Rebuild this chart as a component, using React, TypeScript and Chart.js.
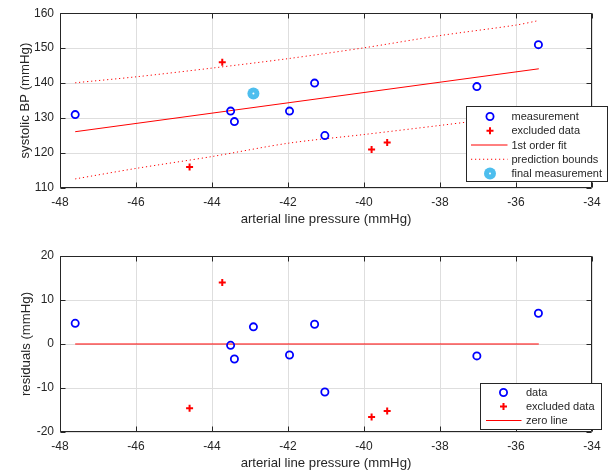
import React, { useEffect, useRef } from 'react';
import { Chart, registerables } from 'chart.js';
Chart.register(...registerables);

const FONT = "'Liberation Sans', Arial, Helvetica, sans-serif";
const AX = '#262626';
const GRID = '#dedede';
const BLUE = '#0000ff';
const RED = '#ff0000';
const LBLUE = '#4dbeee';

// ---- data ----
const xTicks = [-48, -46, -44, -42, -40, -38, -36, -34];
const bpTicks = [110, 120, 130, 140, 150, 160];
const resTicks = [-20, -10, 0, 10, 20];

const measX = [-47.6, -43.51, -43.41, -41.96, -41.3, -41.03, -37.03, -35.41];
const measY = [131, 132, 129, 132, 140, 125, 139, 151];

const exclX = [-44.59, -43.73, -39.8, -39.39];
const exclY = [116, 146, 121, 123];

const finalX = [-42.91];
const finalY = [137];

const fitX = [-47.6, -35.4];
const fitY = [126.1, 144.1];

const boundX = [-47.6, -46, -44, -42, -40, -38, -36, -35.4];
const upperY = [140.1, 141.8, 144.3, 147.0, 150.1, 153.6, 156.6, 157.9];
const lowerY = [112.6, 115.6, 119.0, 122.8, 125.3, 127.9, 130.6, 131.4];

const resX = [-47.6, -43.51, -43.41, -42.91, -41.96, -41.3, -41.03, -37.03, -35.41];
const resY = [4.7, -0.3, -3.4, 3.9, -2.5, 4.5, -10.9, -2.7, 7.0];

const resExclX = [-44.59, -43.73, -39.8, -39.39];
const resExclY = [-14.6, 14.0, -16.6, -15.2];

const zeroX = [-47.6, -35.4];
const zeroY = [0, 0];

const pts = (xs: number[], ys: number[]) => xs.map((x, i) => ({ x, y: ys[i] }));

type LegendItem = { label: string; kind: string };
type LegendCfg = {
  x: number; y: number; w: number; h: number;
  row0: number; dy: number; sym: number; l1: number; l2: number; tx: number;
  items: LegendItem[];
};

function drawSymbol(ctx: CanvasRenderingContext2D, kind: string, cx: number, cy: number, l1: number, l2: number) {
  ctx.save();
  if (kind === 'circle') {
    ctx.strokeStyle = BLUE; ctx.lineWidth = 1.8;
    ctx.beginPath(); ctx.arc(cx, cy, 3.6, 0, Math.PI * 2); ctx.stroke();
  } else if (kind === 'cross') {
    ctx.strokeStyle = RED; ctx.lineWidth = 2;
    ctx.beginPath(); ctx.moveTo(cx - 3.5, cy); ctx.lineTo(cx + 3.5, cy);
    ctx.moveTo(cx, cy - 3.5); ctx.lineTo(cx, cy + 3.5); ctx.stroke();
  } else if (kind === 'line') {
    ctx.strokeStyle = RED; ctx.lineWidth = 1;
    ctx.beginPath(); ctx.moveTo(l1, cy); ctx.lineTo(l2, cy); ctx.stroke();
  } else if (kind === 'dotted') {
    ctx.strokeStyle = RED; ctx.lineWidth = 1; ctx.setLineDash([1.2, 2.8]);
    ctx.beginPath(); ctx.moveTo(l1, cy); ctx.lineTo(l2, cy); ctx.stroke();
  } else if (kind === 'filled') {
    ctx.fillStyle = LBLUE;
    ctx.beginPath(); ctx.arc(cx, cy, 6, 0, Math.PI * 2); ctx.fill();
    ctx.fillStyle = '#ffffff';
    ctx.beginPath(); ctx.arc(cx, cy, 1, 0, Math.PI * 2); ctx.fill();
  }
  ctx.restore();
}

function makePlugin(ticksY: number[], legend: LegendCfg, xTitle: string, xTitleY: number, yTitle: string, yTitleX: number) {
  return {
    id: 'boxAndLegend',
    afterDraw(chart: any) {
      const ctx: CanvasRenderingContext2D = chart.ctx;
      const { left, right, top, bottom } = chart.chartArea;
      const xs = chart.scales.x;
      const ys = chart.scales.y;
      ctx.save();
      ctx.strokeStyle = AX;
      ctx.lineWidth = 1;
      const L = Math.round(left) + 0.5, R = Math.round(right) - 0.5;
      const T = Math.round(top) + 0.5, B = Math.round(bottom) - 0.5;
      ctx.beginPath();
      ctx.rect(L, T, R - L, B - T);
      const tl = 5;
      xTicks.forEach((v) => {
        const px = Math.round(xs.getPixelForValue(v)) + 0.5;
        ctx.moveTo(px, B); ctx.lineTo(px, B - tl);
        ctx.moveTo(px, T); ctx.lineTo(px, T + tl);
      });
      ticksY.forEach((v) => {
        const py = Math.round(ys.getPixelForValue(v)) + 0.5;
        ctx.moveTo(L, py); ctx.lineTo(L + tl, py);
        ctx.moveTo(R, py); ctx.lineTo(R - tl, py);
      });
      ctx.stroke();

      // axis titles
      ctx.fillStyle = AX;
      ctx.font = `13.2px ${FONT}`;
      ctx.textAlign = 'center';
      ctx.textBaseline = 'middle';
      ctx.fillText(xTitle, (left + right) / 2, xTitleY);
      ctx.save();
      ctx.translate(yTitleX, (top + bottom) / 2);
      ctx.rotate(-Math.PI / 2);
      ctx.fillText(yTitle, 0, 0);
      ctx.restore();

      // legend
      const lg = legend;
      ctx.fillStyle = '#ffffff';
      ctx.fillRect(lg.x, lg.y, lg.w, lg.h);
      ctx.strokeStyle = AX;
      ctx.lineWidth = 1;
      ctx.strokeRect(lg.x, lg.y, lg.w, lg.h);
      ctx.font = `11px ${FONT}`;
      ctx.textAlign = 'left';
      ctx.textBaseline = 'middle';
      lg.items.forEach((it, i) => {
        const cy = lg.y + lg.row0 + i * lg.dy;
        drawSymbol(ctx, it.kind, lg.x + lg.sym, cy, lg.x + lg.l1, lg.x + lg.l2);
        ctx.fillStyle = AX;
        ctx.fillText(it.label, lg.x + lg.tx, cy + 0.5);
      });
      ctx.restore();
    },
  };
}

function baseScales(ticksY: number[], yMin: number, yMax: number, xHeight: number) {
  const tickFont = { family: FONT, size: 12 };
  return {
    x: {
      type: 'linear',
      min: -48, max: -34,
      afterBuildTicks: (s: any) => { s.ticks = xTicks.map((v) => ({ value: v })); },
      afterFit: (s: any) => { s.height = xHeight; },
      ticks: { color: AX, font: tickFont, padding: 7, maxRotation: 0, autoSkip: false, callback: (v: any) => String(v) },
      grid: { color: GRID, lineWidth: 1, drawTicks: false },
      border: { display: false },
    },
    y: {
      type: 'linear',
      min: yMin, max: yMax,
      afterBuildTicks: (s: any) => { s.ticks = ticksY.map((v) => ({ value: v })); },
      afterFit: (s: any) => { s.width = 60; },
      ticks: { color: AX, font: tickFont, padding: 6, autoSkip: false, callback: (v: any) => String(v) },
      grid: { color: GRID, lineWidth: 1, drawTicks: false },
      border: { display: false },
    },
  };
}

function TopChart() {
  const ref = useRef<HTMLCanvasElement>(null);
  useEffect(() => {
    const legend: LegendCfg = {
      x: 466.5, y: 106.5, w: 141, h: 75, row0: 10, dy: 14.25, sym: 23.5, l1: 4.5, l2: 41, tx: 45,
      items: [
        { label: 'measurement', kind: 'circle' },
        { label: 'excluded data', kind: 'cross' },
        { label: '1st order fit', kind: 'line' },
        { label: 'prediction bounds', kind: 'dotted' },
        { label: 'final measurement', kind: 'filled' },
      ],
    };
    const chart = new Chart(ref.current!, {
      type: 'scatter',
      data: {
        datasets: [
          { label: 'measurement', data: pts(measX, measY), pointStyle: 'circle', pointRadius: 3.6, borderColor: BLUE, backgroundColor: 'transparent', borderWidth: 1.8, order: 2 } as any,
          { label: 'excluded data', data: pts(exclX, exclY), pointStyle: 'cross', pointRadius: 3.5, borderColor: RED, borderWidth: 2, order: 2 },
          { type: 'line', label: '1st order fit', data: pts(fitX, fitY), borderColor: RED, borderWidth: 1, pointRadius: 0, showLine: true, fill: false, order: 3 } as any,
          { type: 'line', label: 'upper bound', data: pts(boundX, upperY), borderColor: RED, borderWidth: 1, borderDash: [1.2, 2.8], pointRadius: 0, showLine: true, fill: false, tension: 0.3, order: 3 } as any,
          { type: 'line', label: 'lower bound', data: pts(boundX, lowerY), borderColor: RED, borderWidth: 1, borderDash: [1.2, 2.8], pointRadius: 0, showLine: true, fill: false, tension: 0.3, order: 3 } as any,
          { label: 'final measurement', data: pts(finalX, finalY), pointStyle: 'circle', pointRadius: 6, borderWidth: 0, backgroundColor: LBLUE, borderColor: LBLUE, order: 1 },
          { label: 'final center', data: pts(finalX, finalY), pointStyle: 'circle', pointRadius: 1, borderWidth: 0, backgroundColor: '#ffffff', borderColor: '#ffffff', order: 0 },
        ],
      },
      options: {
        responsive: false,
        animation: false,
        events: [],
        layout: { padding: { left: 0, right: 16, top: 13, bottom: 0 } },
        plugins: { legend: { display: false }, tooltip: { enabled: false } },
        scales: baseScales(bpTicks, 110, 160, 47) as any,
      },
      plugins: [makePlugin(bpTicks, legend, 'arterial line pressure (mmHg)', 219, 'systolic BP (mmHg)', 25.5)],
    });
    return () => chart.destroy();
  }, []);
  return <canvas ref={ref} width={608} height={235} style={{ display: 'block' }} />;
}

function BottomChart() {
  const ref = useRef<HTMLCanvasElement>(null);
  useEffect(() => {
    const legend: LegendCfg = {
      x: 480.5, y: 148.5, w: 121, h: 46, row0: 9, dy: 14, sym: 23, l1: 5.5, l2: 41, tx: 45.5,
      items: [
        { label: 'data', kind: 'circle' },
        { label: 'excluded data', kind: 'cross' },
        { label: 'zero line', kind: 'line' },
      ],
    };
    const chart = new Chart(ref.current!, {
      type: 'scatter',
      data: {
        datasets: [
          { label: 'data', data: pts(resX, resY), pointStyle: 'circle', pointRadius: 3.6, borderColor: BLUE, backgroundColor: 'transparent', borderWidth: 1.8, order: 1 } as any,
          { label: 'excluded data', data: pts(resExclX, resExclY), pointStyle: 'cross', pointRadius: 3.5, borderColor: RED, borderWidth: 2, order: 1 },
          { type: 'line', label: 'zero line', data: pts(zeroX, zeroY), borderColor: RED, borderWidth: 1, pointRadius: 0, showLine: true, fill: false, order: 2 } as any,
        ],
      },
      options: {
        responsive: false,
        animation: false,
        events: [],
        layout: { padding: { left: 0, right: 16, top: 21, bottom: 0 } },
        plugins: { legend: { display: false }, tooltip: { enabled: false } },
        scales: baseScales(resTicks, -20, 20, 38) as any,
      },
      plugins: [makePlugin(resTicks, legend, 'arterial line pressure (mmHg)', 228.5, 'residuals (mmHg)', 26)],
    });
    return () => chart.destroy();
  }, []);
  return <canvas ref={ref} width={608} height={235} style={{ display: 'block' }} />;
}

export default function App() {
  return (
    <div style={{ position: 'absolute', left: 0, top: 0, width: 608, height: 470, background: '#ffffff' }}>
      <TopChart />
      <BottomChart />
    </div>
  );
}
